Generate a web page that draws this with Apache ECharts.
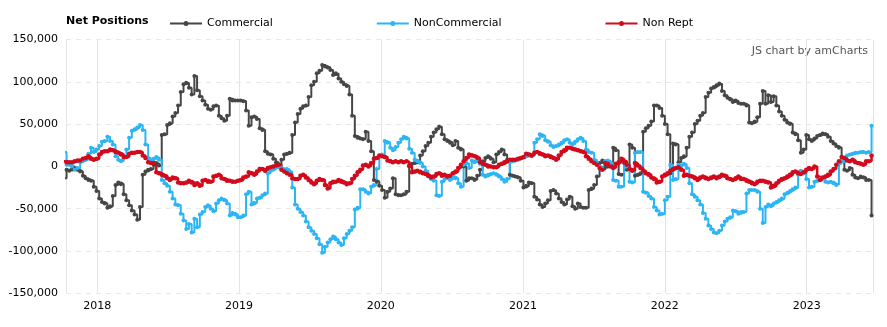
<!DOCTYPE html>
<html><head><meta charset="utf-8">
<script src="https://cdn.jsdelivr.net/npm/echarts@6/dist/echarts.min.js"></script>
<style>html,body{margin:0;padding:0;background:#fff}#c{width:887px;height:327px}</style>
</head><body><div id="c"></div>
<script>
// weekly reports, first one falls just left of the plot (clipped)
const firstWeek = [2017, 9, 7];
const seriesNames = ['Commercial', 'NonCommercial', 'Non Rept'];
// values in thousands of contracts
const commercial = [-14,
-4,-5,-3,-2,-4,-6,-11,-14,-16,-17,-24,-29,-38,-42,-44,-49,-47,-35,-22,-19,-21,-33,-40,-46,-52,-57,-63,-48,-10,-6,-4,-3,2,4,1,37,38,49,51,59,63,72,88,97,99,93,85,107,90,
83,78,73,68,67,71,72,60,57,54,60,80,78,78,78,78,77,66,48,58,59,56,45,43,18,15,14,9,5,2,8,14,15,16,37,52,62,68,71,72,82,96,100,110,113,120,118,117,114,108,
110,104,100,97,95,85,60,36,34,33,32,41,30,18,-16,-18,-23,-28,-37,-30,-26,-14,-33,-34,-34,-33,-30,0,3,4,5,13,18,24,28,35,40,44,47,38,32,30,28,25,30,22,20,0,-17,-14,
-14,-16,-11,-4,6,10,12,9,5,14,17,20,14,8,-10,-11,-12,-13,-17,-25,-23,-19,-20,-36,-39,-45,-48,-44,-40,-29,-28,-32,-38,-42,-45,-39,-36,-47,-50,-44,-48,-49,-49,-28,-26,-22,-12,4,7,
-1,0,2,22,19,-9,-10,4,-4,26,22,-11,-10,-8,41,45,48,53,72,72,69,60,50,38,-8,27,26,5,10,12,22,35,40,50,54,60,63,82,87,92,94,96,98,89,84,81,79,76,78,75,
74,74,72,52,51,53,58,74,89,74,84,76,83,72,65,60,55,52,50,40,38,31,16,20,37,32,30,33,36,37,39,38,35,30,27,24,22,7,-4,-5,-2,-10,-13,-14,-12,-13,-16,-16,-58];
const nonCommercial = [17,
2,2,0,-4,-2,5,7,8,15,22,17,20,24,29,30,35,30,26,12,8,6,10,20,34,42,44,46,49,43,26,10,6,9,11,8,-16,-20,-23,-30,-38,-45,-46,-56,-64,-74,-68,-78,-62,-72,
-57,-54,-48,-46,-50,-53,-44,-40,-38,-40,-44,-58,-55,-57,-60,-60,-58,-33,-30,-45,-43,-38,-37,-34,-32,-8,-5,-3,0,-1,-2,-4,-3,-6,-25,-45,-50,-54,-58,-65,-72,-76,-80,-85,-92,-102,-95,-90,-86,-83,
-86,-90,-93,-85,-80,-76,-72,-51,-49,-27,-27,-30,-32,-24,-22,-3,12,14,30,28,22,19,23,28,32,35,33,21,16,8,6,4,0,-5,-12,-15,-17,-34,-35,-18,-15,-14,-16,-12,-14,-20,-24,2,4,-2,
7,5,6,3,-10,-12,-10,-9,-8,-10,-12,-15,-18,-15,5,6,7,8,10,11,12,13,12,28,32,38,36,31,29,25,23,24,26,28,31,32,28,26,29,32,34,30,20,17,16,8,4,0,-2,
6,7,4,-16,-17,-24,-24,6,0,-18,-19,16,17,17,-30,-31,-35,-38,-48,-52,-57,-56,-40,-36,2,-16,-15,2,1,3,-2,-20,-33,-36,-40,-45,-55,-62,-70,-74,-78,-79,-76,-70,-65,-62,-60,-52,-53,-56,
-54,-54,-32,-28,-28,-28,-30,-50,-67,-48,-45,-47,-44,-42,-40,-38,-33,-31,-29,-27,-25,-10,-5,-8,-15,-25,-24,-18,-17,-15,-14,-18,-19,-18,-20,-22,3,8,6,13,14,15,16,16,17,17,16,17,48];
const nonRept = [6,
5,5,5,6,7,7,9,10,12,9,8,9,14,17,18,18,20,19,17,16,14,11,11,15,16,16,17,17,13,10,5,4,4,-7,-8,-10,-11,-14,-16,-13,-14,-19,-20,-20,-19,-17,-19,-22,-20,
-23,-17,-16,-18,-18,-12,-11,-10,-14,-15,-17,-17,-18,-18,-17,-16,-13,-12,-7,-8,-10,-6,-3,-3,-5,-2,-1,0,1,2,-4,-6,-8,-10,-14,-15,-15,-11,-10,-13,-16,-19,-21,-17,-15,-16,-22,-26,-20,-18,
-18,-16,-18,-19,-21,-20,-15,-11,-7,-4,1,2,0,4,9,10,13,12,11,7,6,5,6,5,6,5,6,1,-7,-6,-5,-7,-8,-9,-11,-13,-12,-9,-8,-11,-10,-12,-11,-8,-6,-2,2,6,10,14,
13,12,10,5,3,2,0,0,-1,-1,2,3,5,6,8,8,8,9,10,11,15,14,13,16,17,15,14,12,13,11,10,8,13,17,19,22,22,21,20,19,18,17,12,9,6,4,2,-2,-4,
4,3,0,-2,3,5,9,6,2,-3,-5,4,1,-2,-5,-8,-10,-13,-15,-19,-18,-12,-10,-8,-5,-3,-2,-1,-4,-11,-10,-11,-12,-14,-16,-13,-12,-14,-15,-13,-12,-14,-12,-10,-11,-14,-15,-16,-14,-12,
-15,-15,-17,-18,-20,-21,-18,-17,-17,-18,-19,-25,-23,-20,-17,-15,-14,-12,-10,-7,-6,-8,-9,-7,-4,-2,-3,0,-12,-16,-13,-12,-10,-6,-3,2,6,11,10,7,6,8,5,4,3,2,6,6,13];
const yMin = -150000, yMax = 150000, yStep = 50000;
const colors = ['#464646', '#2bb5f5', '#d3091c'];

const DAY = 86400000;
const t0 = Date.UTC(firstWeek[0], firstWeek[1], firstWeek[2]);
const weeks = commercial.map((_, i) => t0 + i * 7 * DAY);
const pairs = arr => arr.map((v, i) => [weeks[i], v * 1000]);
const FONT = 'DejaVu Sans, Verdana, sans-serif';
// legend glyph: 2px line with a small dot in the middle (32 x 5 box)
const legendIcon = 'path://M0,1.5L32,1.5L32,3.5L0,3.5Z M18.5,2.5A2.5,2.5,0,1,1,13.5,2.5A2.5,2.5,0,1,1,18.5,2.5Z';

const chart = echarts.init(document.getElementById('c'), null, {renderer: 'canvas'});
const mk = (name, arr, color, w, s) => ({
  name, type: 'line', step: 'end', data: pairs(arr),
  symbol: 'circle', symbolSize: s, showSymbol: true, showAllSymbol: true,
  lineStyle: {width: w, color}, itemStyle: {color}, color,
  emphasis: {disabled: true}, animation: false, clip: true
});
chart.setOption({
  animation: false,
  textStyle: {fontFamily: FONT},
  title: {text: 'Net Positions', left: 66, top: 16, padding: 0,
    textStyle: {fontSize: 11, fontWeight: 'bold', color: '#000', fontFamily: FONT}},
  legend: {data: seriesNames.map(n => ({name: n, icon: legendIcon})),
    left: 170, top: 18, padding: 0, itemGap: 104,
    itemWidth: 32, itemHeight: 5,
    textStyle: {fontSize: 11, color: '#000', fontFamily: FONT}},
  grid: {left: 66, right: 14, top: 39.5, bottom: 33.7, containLabel: false},
  xAxis: {
    type: 'time',
    min: Date.UTC(2017, 9, 12, 14), max: Date.UTC(2023, 5, 20, 18),
    minInterval: 365 * DAY, maxInterval: 366 * DAY,
    axisLine: {show: false}, axisTick: {show: false},
    splitLine: {show: true, lineStyle: {color: '#e4e4e4', width: 1, type: 'solid'}},
    axisLabel: {formatter: '{yyyy}', color: '#000', fontSize: 11, margin: 7.5,
      fontFamily: FONT, showMinLabel: false, showMaxLabel: false}
  },
  yAxis: {
    type: 'value', min: yMin, max: yMax, interval: yStep,
    axisLine: {show: false}, axisTick: {show: false},
    splitLine: {lineStyle: {color: '#e8e8e8', type: [5, 5], width: 1}},
    axisLabel: {color: '#000', fontSize: 11, margin: 8, fontFamily: FONT,
      formatter: v => v.toLocaleString('en-US')}
  },
  graphic: [{type: 'text', right: 19, top: 46,
    style: {text: 'JS chart by amCharts', fontSize: 11, fontFamily: FONT, fill: '#555'}}],
  series: [
    mk(seriesNames[0], commercial, colors[0], 2, 4),
    mk(seriesNames[1], nonCommercial, colors[1], 2, 4),
    mk(seriesNames[2], nonRept, colors[2], 2.5, 4.5)
  ]
});
</script></body></html>
